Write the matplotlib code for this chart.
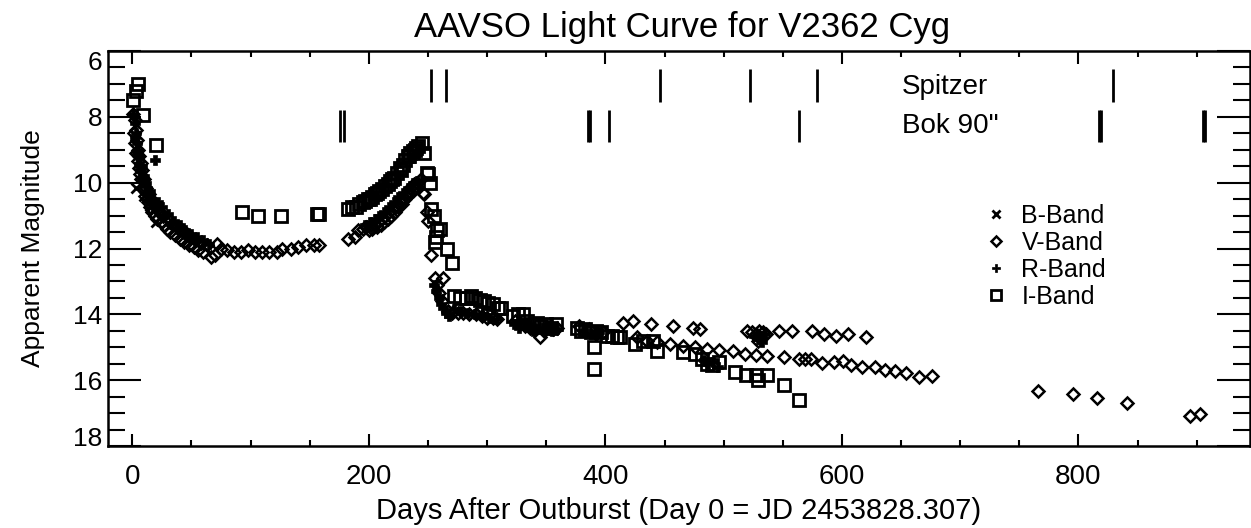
import numpy as np
import matplotlib
matplotlib.use("Agg")
import matplotlib.pyplot as plt
from matplotlib.ticker import MultipleLocator

plt.rcParams['font.family'] = ['Liberation Sans', 'DejaVu Sans']

# B band
b_days = [3, 10, 15, 20]
b_mag = [10.15, 10.4, 10.7, 11.2]

# V band
v_days = [1, 2, 3, 4, 5, 6, 7, 8, 10, 12, 14, 16, 18, 20, 23, 26, 30, 34, 38, 42,
          46, 50, 54, 58, 63, 67, 70, 72, 75, 80, 86, 92, 98, 104, 110, 116, 122,
          127, 134, 140, 147, 154, 158,
          1.5, 2.5, 3.5, 4.5, 5.5, 6.5, 7.5, 9, 11, 13, 15, 17, 19, 21, 24, 27, 29,
          32, 36, 40, 44, 48, 52, 56, 60,
          182, 188, 191, 195, 198, 202, 205, 208, 211, 214, 217, 220, 223, 226,
          229, 232, 235, 238, 241, 244, 246,
          200, 203, 207, 210, 213, 216, 219, 222, 225, 228, 231, 234, 237, 240,
          247, 249, 250, 253, 256, 258, 259, 262, 263, 267,
          270, 275, 280, 285, 291, 296, 300, 305, 308,
          324, 328, 332, 336, 340, 345, 348, 352, 356, 359,
          378, 386, 392, 398,
          415, 423, 439, 457, 474, 480,
          427, 435, 444, 455, 466, 476, 486, 496, 508, 518, 527, 537, 551, 564,
          569, 574, 583, 593, 601, 608, 617, 628, 636, 645, 654, 665, 676,
          520, 524, 527, 530, 533, 536, 529, 531,
          547, 558, 575, 585, 595, 605, 620,
          766, 795, 816, 841, 894, 903]
v_mag = [7.9, 8.1, 8.4, 8.7, 9.0, 9.2, 9.4, 9.6, 9.9, 10.15, 10.35, 10.5, 10.65,
         10.75, 10.85, 11.0, 11.1, 11.25, 11.35, 11.45, 11.55, 11.65, 11.75, 11.82,
         11.9, 12.25, 12.2, 11.85, 12.0, 12.05, 12.1, 12.1, 12.05, 12.1, 12.1,
         12.1, 12.1, 12.0, 12.0, 11.95, 11.9, 11.9, 11.9,
         8.5, 8.8, 9.1, 9.35, 9.55, 9.75, 9.9, 10.15, 10.4, 10.6, 10.75, 10.9,
         11.0, 11.1, 11.2, 11.3, 11.4, 11.5, 11.6, 11.7, 11.8, 11.9, 11.95,
         12.05, 12.1,
         11.7, 11.65, 11.45, 11.4, 11.35, 11.3, 11.25, 11.2, 11.1, 11.0, 10.9,
         10.8, 10.7, 10.55, 10.45, 10.3, 10.15, 10.05, 10.0, 9.9, 10.3,
         11.45, 11.4, 11.35, 11.3, 11.2, 11.1, 11.0, 10.9, 10.75, 10.65, 10.5,
         10.35, 10.25, 10.1,
         10.35, 10.9, 11.15, 12.2, 12.9, 13.1, 13.35, 13.6, 12.9, 13.9,
         13.95, 13.95, 13.95, 14.0, 14.0, 14.05, 14.1, 14.1, 14.15,
         14.2, 14.3, 14.35, 14.4, 14.45, 14.7, 14.5, 14.4, 14.45, 14.4,
         14.35, 14.45, 14.6, 14.55,
         14.25, 14.2, 14.3, 14.35, 14.4, 14.45,
         14.7, 14.8, 14.85, 14.9, 14.95, 15.0, 15.05, 15.07, 15.1, 15.2, 15.25,
         15.27, 15.3, 15.35, 15.37, 15.35, 15.48, 15.45, 15.42, 15.55, 15.6,
         15.6, 15.7, 15.72, 15.78, 15.9, 15.88,
         14.5, 14.55, 14.6, 14.5, 14.55, 14.6, 14.8, 14.7,
         14.5, 14.5, 14.5, 14.6, 14.65, 14.6, 14.7,
         16.33, 16.42, 16.55, 16.7, 17.08, 17.03]

# R band
r_days = [1, 2, 3, 4, 5, 6, 8, 10, 12, 15, 19, 22, 25, 30, 35, 40, 45, 50, 55, 60, 65,
          2, 4, 6, 7, 9, 11, 13, 17, 20, 27, 33, 38, 43, 48, 53,
          197, 201, 205, 209, 213, 217, 221, 225, 229, 233, 237, 241,
          255, 257, 259, 261, 263, 265, 268,
          272, 278, 284, 290, 296, 302, 308,
          323, 327, 331, 335, 339, 343, 347, 351, 355, 359,
          381, 388, 395,
          483, 487, 491, 495,
          526, 529, 532, 535]
r_mag = [7.9, 8.2, 8.5, 8.8, 9.0, 9.2, 9.5, 9.8, 10.0, 10.25, 9.3, 10.6, 10.75, 10.95,
         11.15, 11.3, 11.45, 11.55, 11.65, 11.75, 11.85,
         8.6, 9.1, 9.5, 9.6, 9.9, 10.1, 10.3, 10.6, 10.8, 11.0, 11.25, 11.4,
         11.55, 11.65, 11.75,
         11.3, 11.2, 11.1, 11.0, 10.9, 10.75, 10.6, 10.45, 10.3, 10.15, 10.0, 9.95,
         13.1, 13.3, 13.5, 13.7, 13.8, 13.95, 14.05,
         13.85, 13.9, 13.95, 14.0, 14.05, 14.1, 14.15,
         14.3, 14.4, 14.25, 14.35, 14.5, 14.45, 14.4, 14.35, 14.5, 14.45,
         14.5, 14.6, 14.55,
         15.4, 15.5, 15.45, 15.6,
         14.65, 14.75, 14.85, 14.6]

# I band
i_days = [0.5, 3, 5, 9, 20,
          93, 106, 126, 156, 158,
          182, 186, 189, 195, 199, 203, 207, 211, 214, 218, 221, 224, 226, 229,
          231, 233, 235, 237, 239, 242, 245, 247, 249, 250, 252, 253, 255, 256,
          257, 258, 260, 266, 270,
          192, 197, 201, 205, 209, 216, 220, 227, 234, 240,
          272, 277, 282, 286, 290, 294, 297, 301, 305, 309, 312,
          322, 326, 330, 334, 338, 342, 346, 350, 354, 358,
          376, 379, 383, 388, 390, 390, 392, 396, 401, 406, 410,
          412, 425, 432, 440, 444, 466, 476, 482, 486, 490, 496, 510, 519, 527,
          529, 537, 551, 564]
i_mag = [7.5, 7.2, 7.0, 7.95, 8.85,
         10.9, 11.0, 11.0, 10.95, 10.95,
         10.8, 10.75, 10.75, 10.6, 10.5, 10.45, 10.3, 10.2, 10.1, 9.95, 9.85, 9.7,
         9.55, 9.45, 9.3, 9.2, 9.1, 9.05, 9.0, 8.9, 8.8, 9.1, 9.7, 9.75, 10.0,
         10.8, 11.0, 11.8, 11.65, 11.45, 11.4, 12.0, 12.45,
         10.65, 10.55, 10.5, 10.35, 10.25, 10.05, 9.9, 9.6, 9.2, 8.95,
         13.45, 13.5, 13.5, 13.45, 13.5, 13.55, 13.6, 13.65, 13.7, 13.8, 13.8,
         14.05, 14.0, 14.0, 14.2, 14.3, 14.25, 14.35, 14.3, 14.4, 14.3,
         14.4, 14.5, 14.45, 14.55, 15.0, 15.65, 14.5, 14.55, 14.67, 14.65, 14.7,
         14.7, 14.9, 14.8, 14.8, 15.1, 15.15, 15.2, 15.35, 15.5, 15.55, 15.45,
         15.75, 15.85, 15.85, 16.0, 15.85, 16.15, 16.6]

spitzer_days = [253, 265, 446, 522, 579, 829]
bok_days = [176, 179, 385, 387, 403, 564, 817, 819, 905, 907]

mag_ticks = [6, 8, 10, 12, 14, 16, 18]

fig = plt.figure(figsize=(12.51, 5.28), dpi=100)
ax = fig.add_axes([108 / 1251, 82 / 528, 1142 / 1251, 395 / 528])

ax.plot(i_days, i_mag, ls='none', marker='s', ms=8.5, mfc='none', mec='k', mew=2, label='I-Band')
ax.plot(v_days, v_mag, ls='none', marker='D', ms=6, mfc='none', mec='k', mew=1.8, label='V-Band')
ax.plot(r_days, r_mag, ls='none', marker='P', ms=7.5, mfc='k', mec='k', mew=0.5, label='R-Band')
ax.plot(b_days, b_mag, ls='none', marker='x', ms=6.5, mec='k', mew=2, label='B-Band')

ax.vlines(spitzer_days, 6.55, 7.55, color='k', lw=2)
ax.vlines(bok_days, 7.8, 8.75, color='k', lw=2)
ax.text(651, 7.1, 'Spitzer', fontsize=20, va='center', ha='left')
ax.text(651, 8.27, 'Bok 90"', fontsize=20, va='center', ha='left')

ax.set_xlim(-20.5, 945)
ax.set_ylim(18, 6)
ax.xaxis.set_major_locator(MultipleLocator(200))
ax.xaxis.set_minor_locator(MultipleLocator(50))
ax.set_yticks(mag_ticks)
ax.yaxis.set_minor_locator(MultipleLocator(0.5))
ax.tick_params(axis='x', which='both', direction='in', top=True, bottom=True, width=1.5,
               labelsize=20, pad=13)
ax.tick_params(axis='x', which='major', length=9)
ax.tick_params(axis='x', which='minor', length=4.5)
ax.tick_params(axis='y', which='both', direction='in', left=True, right=True, width=1.5,
               labelsize=19, pad=4)
ax.tick_params(axis='y', which='major', length=24)
ax.tick_params(axis='y', which='minor', length=12)
for s in ax.spines.values():
    s.set_linewidth(1.8)

# end labels sit inside the axis range, as in the original
ylabels = ax.get_yticklabels()
ylabels[0].set_va('top')
ylabels[-1].set_va('baseline')

ax.set_xlabel('Days After Outburst (Day 0 = JD 2453828.307)', fontsize=21, labelpad=5)
ax.set_ylabel('Apparent Magnitude', fontsize=19, labelpad=20)
fig.text(682 / 1251, 1 - 27 / 528, 'AAVSO Light Curve for V2362 Cyg', fontsize=25,
         ha='center', va='center')

handles, labels = ax.get_legend_handles_labels()
order = [3, 1, 2, 0]
ax.legend([handles[k] for k in order], [labels[k] for k in order], frameon=False,
          fontsize=18, loc='upper left', bbox_to_anchor=(0.767, 0.613), borderpad=0,
          borderaxespad=0, handlelength=1, handletextpad=0.5, labelspacing=0.12,
          markerscale=0.85)

fig.savefig('out.png', dpi=100)
